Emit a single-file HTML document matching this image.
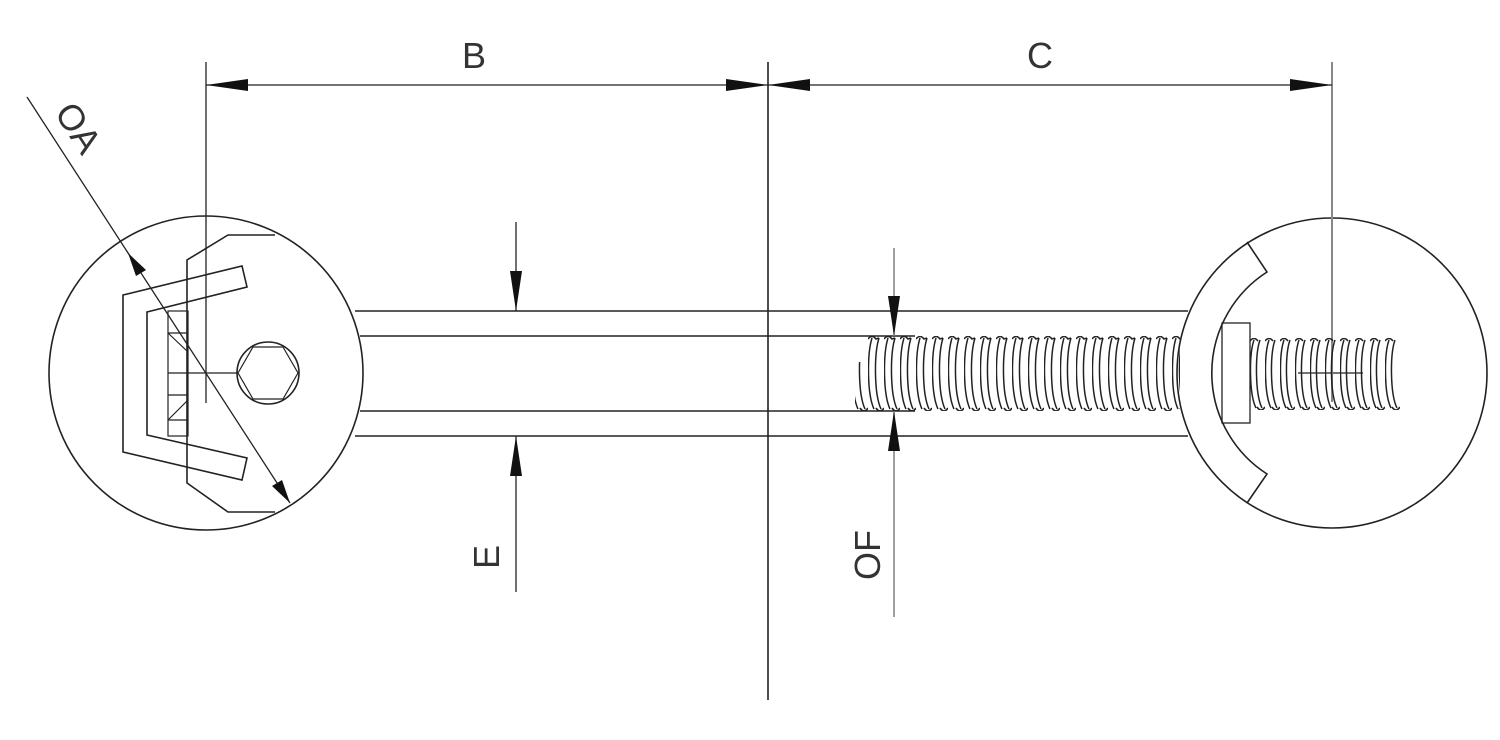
<!DOCTYPE html>
<html><head><meta charset="utf-8"><style>
html,body{margin:0;padding:0;background:#fff;}
svg{display:block}
text{font-family:"Liberation Sans",sans-serif;font-size:36px;fill:#333}
</style></head><body>
<svg width="1500" height="740" viewBox="0 0 1500 740" xmlns="http://www.w3.org/2000/svg">
<defs>
<pattern id="thr" patternUnits="userSpaceOnUse" x="868" y="336" width="16" height="75">
<path d="M4,2 C-1,18 -1,58 6,73 M11,2 C6,18 6,58 13,73" fill="none" stroke="#222" stroke-width="1.5"/>
<path d="M0,3 Q4,-2 8,3 L11,2 M8,72 Q12,78 16,72" fill="none" stroke="#222" stroke-width="1.6"/>
</pattern>
<pattern id="thr2" patternUnits="userSpaceOnUse" x="1250" y="338" width="15" height="72">
<path d="M4,2 C-1,16 -1,56 6,70 M10,2 C5,16 5,56 12,70" fill="none" stroke="#222" stroke-width="1.5"/>
<path d="M0,3 Q4,-2 8,3 M7,69 Q11,75 15,69" fill="none" stroke="#222" stroke-width="1.6"/>
</pattern>
</defs>
<g fill="none" stroke="#222" stroke-width="1.6">
<line x1="355" y1="311" x2="1188" y2="311"/>
<line x1="355" y1="436" x2="1188" y2="436"/>
<line x1="360" y1="336" x2="915" y2="336"/>
<line x1="360" y1="411" x2="915" y2="411"/>
<circle cx="206" cy="373" r="157"/>
<circle cx="1332" cy="373" r="155"/>
<polygon points="123,295 242,266 247,287 147,312 147,435 247,458 242,480 123,452"/>
<polyline points="275,235 228,235 187,260 187,483 228,512 275,512"/>
<rect x="168" y="311" width="20" height="125" stroke-width="1.2"/>
<line x1="168" y1="333" x2="188" y2="333" stroke-width="1.2"/>
<line x1="168" y1="373" x2="238" y2="373" stroke-width="1.2"/>
<line x1="168" y1="395" x2="188" y2="395" stroke-width="1.2"/>
<line x1="168" y1="420" x2="188" y2="420" stroke-width="1.2"/>
<line x1="168" y1="333" x2="188" y2="352" stroke-width="1.2"/>
<line x1="168" y1="420" x2="188" y2="400" stroke-width="1.2"/>
<circle cx="268" cy="373" r="31"/>
<polygon points="283,347 298,373 283,399 253,399 238,373 253,347" stroke-width="1.2"/>
<line x1="206" y1="62" x2="206" y2="403" stroke-width="1.3"/>
<path d="M1247,242 L1267,272 A120,120 0 0 0 1267,474 L1247,503"/>
<rect x="1222" y="323" width="28" height="100" stroke-width="1.3"/>
<line x1="1298" y1="373" x2="1363" y2="373" stroke-width="1.2"/>
<line x1="1332" y1="62" x2="1332" y2="402" stroke="#888" stroke-width="2"/>
</g>
<rect x="868" y="336" width="312" height="75" fill="url(#thr)"/>
<rect x="855" y="362" width="13" height="49" fill="url(#thr)"/>
<rect x="1250" y="338" width="150" height="72" fill="url(#thr2)"/>
<g fill="none" stroke="#222" stroke-width="1.6">
<line x1="768" y1="62" x2="768" y2="700"/>
<line x1="206" y1="85" x2="1332" y2="85" stroke-width="1.3"/>
<line x1="27" y1="97" x2="290" y2="503" stroke-width="1.3"/>
<line x1="516" y1="222" x2="516" y2="311" stroke-width="1.3"/>
<line x1="516" y1="436" x2="516" y2="592" stroke-width="1.3"/>
<line x1="894" y1="248" x2="894" y2="336" stroke="#888" stroke-width="1.6"/>
<line x1="894" y1="411" x2="894" y2="617" stroke="#888" stroke-width="1.6"/>
</g>
<g fill="#111">
<polygon points="206,85 248,79 248,91"/>
<polygon points="768,85 726,79 726,91"/>
<polygon points="768,85 810,79 810,91"/>
<polygon points="1332,85 1290,79 1290,91"/>
<polygon points="516,311 510,271 522,271"/>
<polygon points="516,436 510,476 522,476"/>
<polygon points="894,336 888,296 900,296"/>
<polygon points="894,411 888,451 900,451"/>
<polygon points="128,253 146,270 136,276"/>
<polygon points="290,503 282,480 272,486"/>
</g>
<text x="474" y="68" text-anchor="middle">B</text>
<text x="1040" y="68" text-anchor="middle">C</text>
<text transform="translate(78,128) rotate(57)" text-anchor="middle" y="12">OA</text>
<text transform="translate(487,557) rotate(-90)" text-anchor="middle" y="12">E</text>
<text transform="translate(868,555) rotate(-90)" text-anchor="middle" y="12">OF</text>
</svg>
</body></html>
